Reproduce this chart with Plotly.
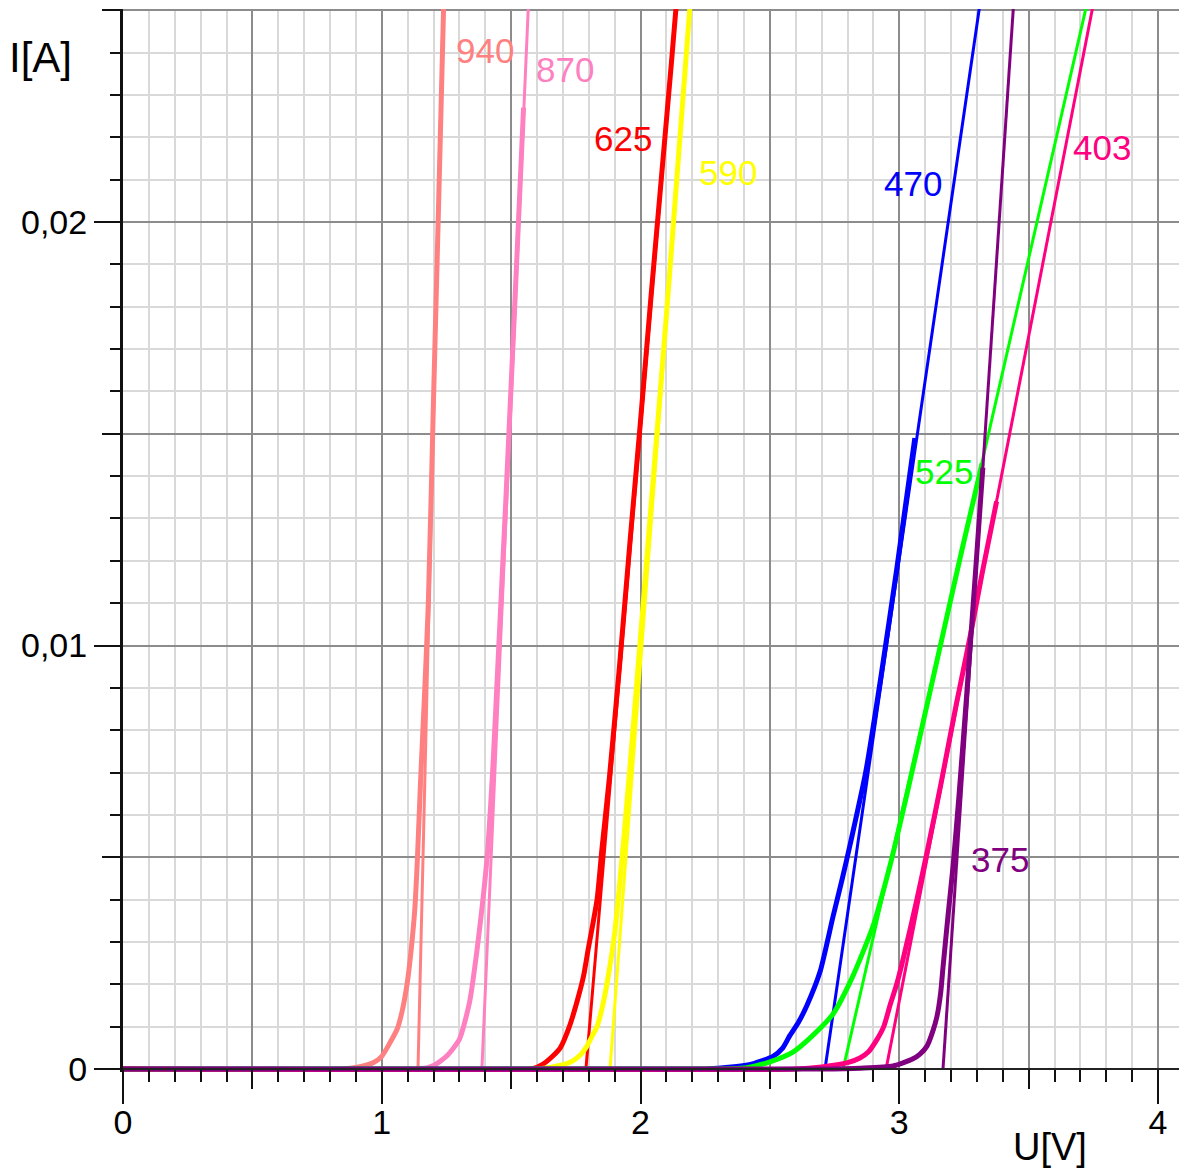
import plotly.graph_objects as go

# ---------------- data ----------------
wavelengths = ["940", "870", "625", "590", "470", "525", "403", "375"]
colors = ["#FF8080", "#FF80C0", "#FF0000", "#FFFF00", "#0000FF", "#00FF00", "#FF0080", "#800080"]

u_940 = [0, 0.85, 0.92, 0.97, 1.00, 1.03, 1.06, 1.08, 1.10, 1.115, 1.128, 1.138, 1.15, 1.165, 1.18, 1.20, 1.22, 1.24]
i_940 = [0, 0, 0.00006, 0.00016, 0.0003, 0.0006, 0.00095, 0.0014, 0.0021, 0.0029, 0.0038, 0.0050, 0.0068, 0.0088, 0.0110, 0.0158, 0.0205, 0.0253]

u_870 = [0, 1.15, 1.20, 1.25, 1.30, 1.34, 1.368, 1.391, 1.41, 1.43, 1.45, 1.48, 1.51, 1.548]
i_870 = [0, 0, 0.00008, 0.0003, 0.0007, 0.0016, 0.0028, 0.0040, 0.0052, 0.0072, 0.0097, 0.0135, 0.0175, 0.0227]

u_625 = [0, 1.58, 1.62, 1.66, 1.69, 1.725, 1.755, 1.78, 1.797, 1.832, 1.851, 1.88, 1.92, 1.96, 2.00, 2.04, 2.08, 2.12, 2.15]
i_625 = [0, 0, 0.0001, 0.0003, 0.0005, 0.0010, 0.0016, 0.0022, 0.0028, 0.0040, 0.0052, 0.0069, 0.0096, 0.0125, 0.0153, 0.0182, 0.0210, 0.0238, 0.0260]

u_590 = [0, 1.60, 1.70, 1.74, 1.77, 1.793, 1.815, 1.832, 1.85, 1.87, 1.90, 1.932, 1.96, 2.00, 2.05, 2.10, 2.15, 2.20]
i_590 = [0, 0, 0.0001, 0.0002, 0.00035, 0.00054, 0.0008, 0.0010, 0.0014, 0.0020, 0.0032, 0.0052, 0.0072, 0.0102, 0.0140, 0.0178, 0.0218, 0.0258]

u_470 = [0, 2.25, 2.32, 2.42, 2.512, 2.55, 2.578, 2.61, 2.643, 2.694, 2.744, 2.78, 2.81, 2.87, 2.93, 2.99, 3.06]
i_470 = [0, 0, 0.00003, 0.0001, 0.0003, 0.0005, 0.0008, 0.0011, 0.0015, 0.0023, 0.0036, 0.0045, 0.0053, 0.0070, 0.0093, 0.0118, 0.0149]

u_525 = [0, 2.30, 2.41, 2.50, 2.589, 2.667, 2.744, 2.821, 2.90, 2.964, 3.03, 3.10, 3.17, 3.24, 3.32]
i_525 = [0, 0, 0.00003, 0.00017, 0.0004, 0.0008, 0.0013, 0.0022, 0.0034, 0.0048, 0.0065, 0.0084, 0.0103, 0.0122, 0.0143]

u_403 = [0, 2.60, 2.70, 2.80, 2.848, 2.88, 2.914, 2.94, 2.964, 2.99, 3.015, 3.068, 3.11, 3.16, 3.22, 3.28, 3.32, 3.376]
i_403 = [0, 0, 0.00005, 0.00015, 0.00026, 0.0004, 0.0007, 0.0010, 0.0015, 0.0020, 0.0026, 0.0040, 0.0052, 0.0067, 0.0086, 0.0104, 0.0117, 0.0134]

u_375 = [0, 2.70, 2.85, 2.976, 3.053, 3.08, 3.107, 3.13, 3.146, 3.16, 3.169, 3.188, 3.208, 3.23, 3.26, 3.30, 3.323]
i_375 = [0, 0, 0.00002, 0.00007, 0.00024, 0.00035, 0.00054, 0.0009, 0.00125, 0.0018, 0.0024, 0.0036, 0.0048, 0.0064, 0.0088, 0.0122, 0.0142]

curves_u = [u_940, u_870, u_625, u_590, u_470, u_525, u_403, u_375]
curves_i = [i_940, i_870, i_625, i_590, i_470, i_525, i_403, i_375]

# linear extrapolation (tangent) lines: voltage at I = 0 and at I = tangent_i_top
tangent_u0 = [1.140, 1.387, 1.789, 1.882, 2.713, 2.783, 2.949, 3.169]
tangent_u1 = [1.241, 1.573, 2.151, 2.203, 3.332, 3.757, 3.777, 3.451]
tangent_i_top = 0.026

x_tick_vals = [0, 1, 2, 3, 4]
x_tick_text = ["0", "1", "2", "3", "4"]
y_tick_vals = [0, 0.01, 0.02]
y_tick_text = ["0", "0,01", "0,02"]

# label anchor positions (data units)
label_pos = {
    "940": (1.399, 0.02406), "870": (1.708, 0.02359), "625": (1.932, 0.02198),
    "590": (2.338, 0.02116), "470": (3.053, 0.02092), "403": (3.784, 0.02175),
    "525": (3.173, 0.01410), "375": (3.389, 0.00494),
}

# ---------------- figure ----------------
fig = go.Figure()
for k, name in enumerate(wavelengths):
    fig.add_trace(go.Scatter(
        x=[tangent_u0[k], tangent_u1[k]], y=[0, tangent_i_top], mode="lines",
        line=dict(color=colors[k], width=3), showlegend=False, hoverinfo="skip"))
    fig.add_trace(go.Scatter(
        x=curves_u[k], y=curves_i[k], mode="lines",
        line=dict(color=colors[k], width=5, shape="spline", smoothing=0.6),
        showlegend=False, name=name))

# empty helper trace so the labelled overlay axes get drawn
fig.add_trace(go.Scatter(x=[None], y=[None], xaxis="x2", yaxis="y2",
                         mode="lines", showlegend=False, hoverinfo="skip"))

FONT = "Liberation Sans, Arial, sans-serif"
x_range = [0, 4.081]
y_range = [-0.0000708, 0.02503]
x_axis_pos = 0.00282

fig.update_layout(
    width=1179, height=1170, autosize=False,
    margin=dict(l=123, r=0, t=9, b=98),
    paper_bgcolor="white", plot_bgcolor="white",
    showlegend=False,
    xaxis=dict(
        range=x_range, anchor="free", position=x_axis_pos,
        dtick=0.5, tick0=0, showticklabels=False,
        ticks="outside", ticklen=19, tickwidth=2, tickcolor="#111",
        showgrid=True, gridcolor="#8c8c8c", gridwidth=1.5,
        minor=dict(dtick=0.1, ticks="outside", ticklen=12, tickwidth=2, tickcolor="#111",
                   showgrid=True, gridcolor="#d9d9d9", gridwidth=2),
        showline=True, linecolor="#222", linewidth=2, zeroline=False,
    ),
    xaxis2=dict(
        range=x_range, overlaying="x", anchor="free", position=x_axis_pos, side="bottom",
        tickvals=x_tick_vals, ticktext=x_tick_text,
        ticks="outside", ticklen=34, tickwidth=2, tickcolor="#111",
        ticklabelstandoff=-11,
        tickfont=dict(family=FONT, size=34, color="#000"),
        showgrid=False, zeroline=False, showline=False,
    ),
    yaxis=dict(
        range=y_range, dtick=0.005, tick0=0, showticklabels=False,
        ticks="outside", ticklen=18, tickwidth=2, tickcolor="#111",
        showgrid=True, gridcolor="#8c8c8c", gridwidth=1.5,
        minor=dict(dtick=0.001, ticks="outside", ticklen=10, tickwidth=2, tickcolor="#111",
                   showgrid=True, gridcolor="#d9d9d9", gridwidth=2),
        showline=True, linecolor="#111", linewidth=3, zeroline=False,
    ),
    yaxis2=dict(
        range=y_range, overlaying="y", anchor="x", side="left",
        tickvals=y_tick_vals, ticktext=y_tick_text,
        ticks="outside", ticklen=28, tickwidth=2, tickcolor="#111",
        tickfont=dict(family=FONT, size=34, color="#000"),
        showgrid=False, zeroline=False, showline=False,
    ),
)

annotations = []
for k, name in enumerate(wavelengths):
    x, y = label_pos[name]
    annotations.append(dict(x=x, y=y, xref="x", yref="y", text=name, showarrow=False,
                            font=dict(family=FONT, size=35, color=colors[k]),
                            xanchor="center", yanchor="middle"))
annotations.append(dict(x=-0.0777, y=0.9548, xref="paper", yref="paper", text="I[A]",
                        showarrow=False, font=dict(family=FONT, size=42, color="#000"),
                        xanchor="center", yanchor="middle"))
annotations.append(dict(x=0.8778, y=-0.0705, xref="paper", yref="paper", text="U[V]",
                        showarrow=False, font=dict(family=FONT, size=38, color="#000"),
                        xanchor="center", yanchor="middle"))
fig.update_layout(annotations=annotations)

fig.write_html("out.html", config={"displayModeBar": False},
               post_script="document.body.style.margin='0';")
